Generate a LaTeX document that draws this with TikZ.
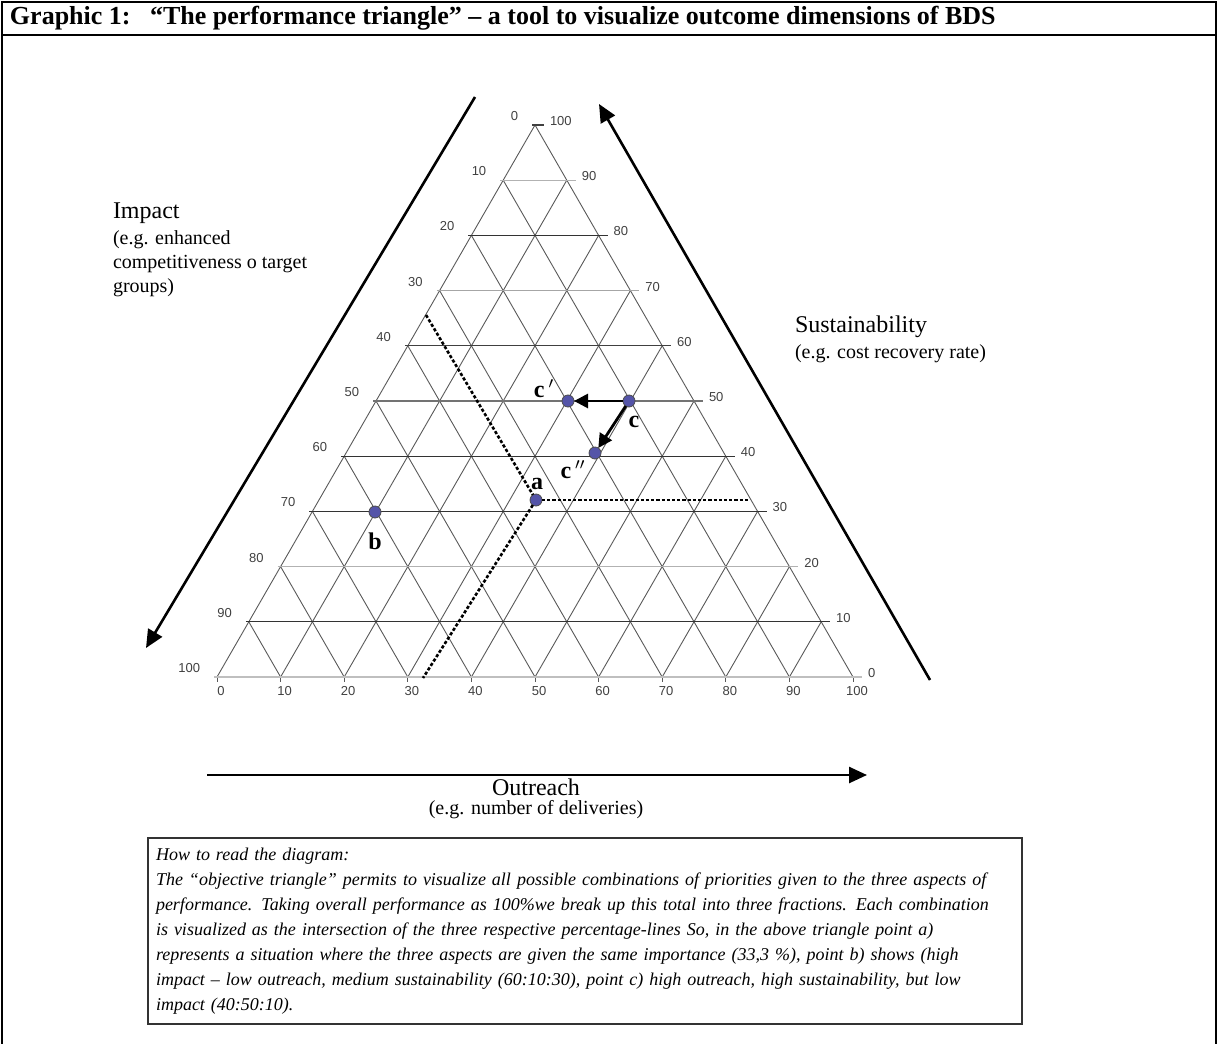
\documentclass[tikz,border=0pt]{standalone}
\usepackage{fontspec}
\setmainfont{Liberation Serif}
\newfontfamily\tickfont{Liberation Sans}
\usetikzlibrary{calc, arrows.meta}
\definecolor{dotblue}{RGB}{84,84,168}

\begin{document}
\begin{tikzpicture}[
        x=0.5pt, y=-0.5pt,
        every node/.style={inner sep=0pt, outer sep=0pt},
        frameline/.style={line width=1.4pt, draw=black},
        gridline/.style={line width=0.45pt, draw=black!65},
        ticklabel/.style={font=\tickfont\fontsize{6.5}{7}\selectfont, text=black!75},
        axisarrow/.style={-{Triangle[length=9pt, width=8pt]}, line width=1.3pt},
        axisname/.style={font=\fontsize{12}{14}\selectfont},
        axisnote/.style={font=\fontsize{10}{12}\selectfont, align=left},
        dotline/.style={line width=1.3pt, dash pattern=on 1.6pt off 1pt},
        dot/.style={circle, fill=dotblue, draw=black!70, line width=0.4pt, minimum size=6pt},
        ptlabel/.style={font=\bfseries\fontsize{12}{14}\selectfont},
        move/.style={-{Triangle[length=7pt, width=7pt]}, line width=1.4pt},
        readbox/.style={draw=black!80, line width=0.8pt, inner xsep=4pt, inner ysep=4pt, text width=429pt, minimum height=93pt, align=left, font=\itshape\fontsize{9}{12.5}\selectfont}
    ]
    \useasboundingbox (0,0) rectangle (1218,1043);

    % frame and heading
    \draw[frameline] (2,1050) -- (2,2) -- (1216,2) -- (1216,1050);
    \draw[frameline] (2,35) -- (1216,35);
    \node[font=\bfseries\fontsize{13}{15}\selectfont, anchor=west] (graphic) at (10,18) {Graphic 1:};
    \node[font=\bfseries\fontsize{13}{15}\selectfont, anchor=west] (title) at (150,18) {``The performance triangle'' -- a tool to visualize outcome dimensions of BDS};

    % triangle corners
    \coordinate (T) at (535,125);
    \coordinate (BL) at (217,677);
    \coordinate (BR) at (853,677);

    % grid
    \draw[gridline] (T) -- (BL);
    \draw[gridline] (T) -- (BR);
    \foreach \k in {1,...,9} {
        \draw[gridline] ($(BL)!\k/10!(BR)$) -- ($(T)!\k/10!(BR)$);
        \draw[gridline] ($(BL)!\k/10!(BR)$) -- ($(BL)!\k/10!(T)$);
    }
    \foreach \k in {0,...,10}
        \draw[gridline] ($(BL)!\k/10!(BR)$) -- ++(0,5);
    \foreach \k/\shade in {0/black!75, 1/black!30, 2/black!80, 3/black!35, 4/black!75, 5/black!55, 6/black!80, 7/black!80, 8/black!30, 9/black!80, 10/black!25}
        \draw[line width=0.6pt, draw=\shade] ($(T)!\k/10!(BL)+(-3,0)$) -- ($(T)!\k/10!(BR)+(9,0)$);

    % scale numbers
    \foreach \k in {0,...,10} {
        \pgfmathtruncatemacro\lval{10*\k}
        \pgfmathtruncatemacro\rval{100-10*\k}
        \node[ticklabel, anchor=east] (lt\k) at ($(T)!\k/10!(BL)+(-17,-9)$) {\lval};
        \node[ticklabel, anchor=west] (rt\k) at ($(T)!\k/10!(BR)+(15,-4)$) {\rval};
        \node[ticklabel] (bt\k) at ($(BL)!\k/10!(BR)+(4,14)$) {\lval};
    }

    % axis arrows
    \coordinate (imptop) at (475,97);
    \coordinate (impend) at (146,648);
    \coordinate (susbot) at (930,680);
    \coordinate (susend) at (599,104);
    \coordinate (outbeg) at (207,775);
    \coordinate (outend) at (867,775);
    \draw[axisarrow] (imptop) -- (impend);
    \draw[axisarrow] (susbot) -- (susend);
    \draw[axisarrow] (outbeg) -- (outend);

    % axis names
    \node[axisname, anchor=west] (impact) at (113,213) {Impact};
    \node[axisnote, anchor=north west] (impactnote) at (113,231) {(e.g. enhanced\\competitiveness o target\\groups)};
    \node[axisname, anchor=west] (sust) at (795,327) {Sustainability};
    \node[axisnote, anchor=west] (sustnote) at (795,354) {(e.g. cost recovery rate)};
    \node[axisname] (outreach) at (536,787) {Outreach};
    \node[axisnote] (outnote) at (536,810) {(e.g. number of deliveries)};

    % points
    \node[dot] (a) at (536,500) {};
    \node[dot] (b) at (375,512) {};
    \node[dot] (c) at (629,401) {};
    \node[dot] (c1) at (568,401) {};
    \node[dot] (c2) at (595,453) {};
    \coordinate (aN) at (426,315);
    \coordinate (aE) at (749,500);
    \coordinate (aS) at (423,678);
    \draw[dotline] (aN) -- (a);
    \draw[dotline] (a) -- (aE);
    \draw[dotline] (a) -- (aS);
    \draw[move] (c) -- (c1);
    \draw[move] (c) -- (c2);

    \node[ptlabel] (alab) at (537,484) {a};
    \node[ptlabel] (blab) at (375,541) {b};
    \node[ptlabel] (clab) at (634,422) {c};
    \node[ptlabel] (c1lab) at (544,389) {c\,$'$};
    \node[ptlabel] (c2lab) at (573,470) {c\,$''$};

    % reading help
    \node[readbox, anchor=north west] (howto) at (148,838) {How to read the diagram:\\
        The ``objective triangle'' permits to visualize all possible combinations of priorities given to the three aspects of\\
        performance. Taking overall performance as 100\%we break up this total into three fractions. Each combination\\
        is visualized as the intersection of the three respective percentage-lines So, in the above triangle point a)\\
        represents a situation where the three aspects are given the same importance (33,3 \%), point b) shows (high\\
        impact -- low outreach, medium sustainability (60:10:30), point c) high outreach, high sustainability, but low\\
        impact (40:50:10).};

\end{tikzpicture}
\end{document}
